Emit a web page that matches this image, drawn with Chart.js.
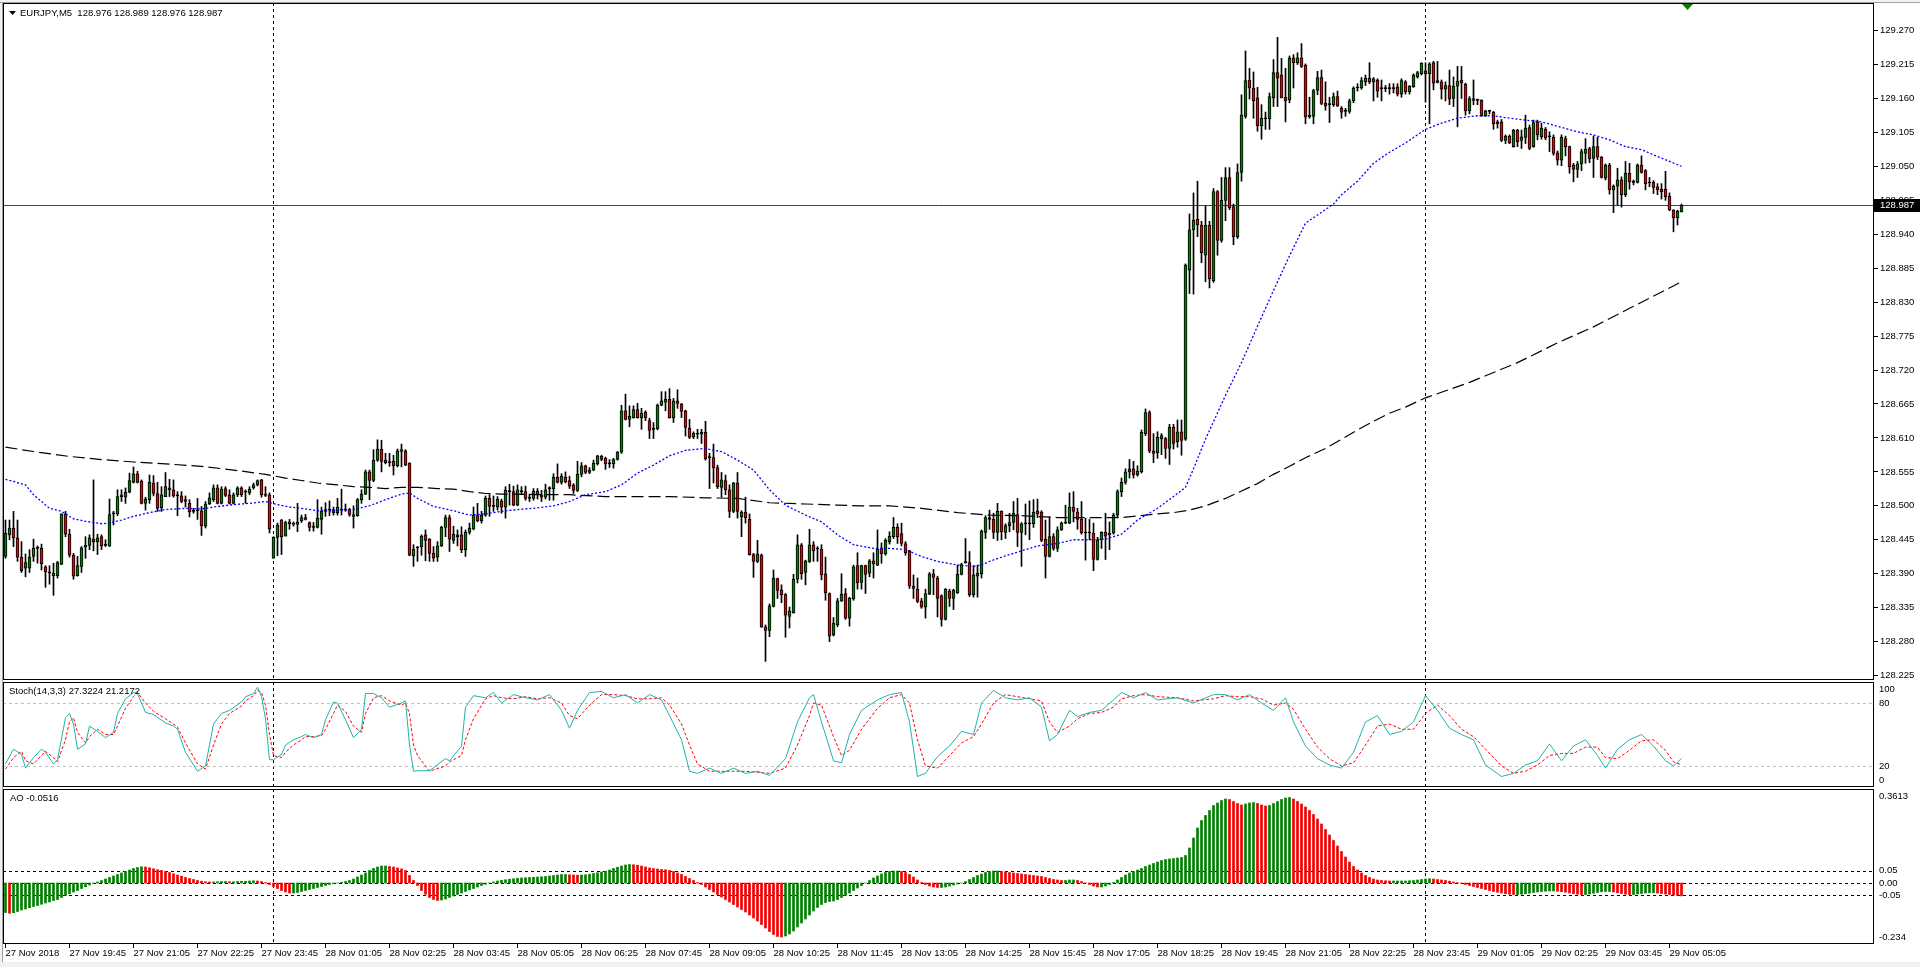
<!DOCTYPE html>
<html>
<head>
<meta charset="utf-8">
<script src="https://cdn.jsdelivr.net/npm/chart.js@4.4.1/dist/chart.umd.min.js"></script>
<style>
html, body { margin: 0; padding: 0; background: #f0f0f0; }
#wrap { position: relative; width: 1920px; height: 967px; background: #fff; overflow: hidden; }
#wrap canvas { position: absolute; left: 0; }
.strip { position: absolute; background: #f0f0f0; }
</style>
</head>
<body>
<div id="wrap">
  <div class="strip" style="left:0;top:0;width:2px;height:967px;border-right:1px solid #a0a0a0"></div>
  <div class="strip" style="left:0;top:0;width:1920px;height:2px;border-bottom:1px solid #a0a0a0"></div>
  <div class="strip" style="left:0;top:962px;width:1920px;height:5px"></div>
  <canvas id="main" width="1920" height="681" style="top:0"></canvas>
  <canvas id="stoch" width="1920" height="107" style="top:681px"></canvas>
  <canvas id="ao" width="1920" height="179" style="top:788px"></canvas>
</div>
<script>
// EURJPY M5, 27 Nov 18:25 .. 29 Nov 05:20, one bar every 5 minutes
var opens = [
128.418,128.453,128.464,128.448,128.417,128.399,128.399,128.418,128.431,128.431,
128.401,128.393,128.387,128.387,128.405,128.487,128.454,128.420,128.387,128.402,
128.433,128.436,128.446,128.442,128.450,128.436,128.435,128.487,128.487,128.515,
128.514,128.522,128.538,128.552,128.540,128.504,128.510,128.537,128.520,128.497,
128.515,128.529,128.526,128.516,128.516,128.510,128.504,128.491,128.492,128.492,
128.467,128.503,128.510,128.529,128.504,128.528,128.518,128.504,128.518,128.529,
128.522,128.521,128.529,128.534,128.542,128.519,128.518,128.415,128.449,128.477,
128.451,128.474,128.471,128.470,128.476,128.481,128.473,128.465,128.465,128.478,
128.491,128.493,128.494,128.489,128.493,128.493,128.494,128.486,128.484,128.510,
128.519,128.555,128.541,128.574,128.592,128.574,128.570,128.572,128.565,128.588,
128.589,128.569,128.419,128.432,128.434,128.453,128.446,128.423,128.417,128.435,
128.465,128.481,128.444,128.453,128.453,128.429,128.457,128.463,128.484,128.476,
128.485,128.512,128.499,128.498,128.508,128.498,128.523,128.523,128.501,128.523,
128.523,128.512,128.512,128.524,128.518,128.514,128.528,128.528,128.546,128.538,
128.546,128.541,128.534,128.525,128.551,128.565,128.554,128.558,128.568,128.580,
128.577,128.568,128.568,128.575,128.587,128.654,128.640,128.643,128.656,128.643,
128.652,128.638,128.624,128.625,128.663,128.668,128.673,128.643,128.670,128.665,
128.654,128.626,128.612,128.616,128.616,128.619,128.578,128.578,128.562,128.530,
128.541,128.526,128.491,128.537,128.482,128.490,128.478,128.421,128.410,128.420,
128.304,128.298,128.337,128.382,128.364,128.356,128.321,128.327,128.381,128.437,
128.392,128.410,128.437,128.430,128.430,128.390,128.358,128.291,128.307,128.346,
128.358,128.318,128.349,128.403,128.376,128.403,128.391,128.411,128.404,128.431,
128.422,128.442,128.450,128.465,128.455,128.439,128.427,128.370,128.365,128.346,
128.336,128.357,128.390,128.383,128.354,128.316,128.362,128.350,128.359,128.389,
128.408,128.408,128.356,128.386,128.390,128.457,128.481,128.478,128.457,128.491,
128.457,128.468,128.473,128.486,128.457,128.471,128.471,128.471,128.492,128.490,
128.446,128.418,128.450,128.431,128.461,128.472,128.472,128.498,128.490,128.478,
128.456,128.456,128.456,128.413,128.445,128.457,128.453,128.456,128.485,128.523,
128.538,128.555,128.560,128.550,128.555,128.617,128.651,128.589,128.586,128.609,
128.609,128.593,128.627,128.604,128.620,128.608,128.882,128.947,128.964,128.955,
128.906,128.955,128.865,129.009,128.930,128.995,129.032,128.985,128.936,129.040,
129.131,129.190,129.177,129.161,129.116,129.127,129.127,129.161,129.202,129.198,
129.162,129.158,129.226,129.218,129.226,129.214,129.130,129.131,129.173,129.194,
129.152,129.150,129.150,129.163,129.144,129.139,129.139,129.156,129.177,129.177,
129.187,129.193,129.187,129.190,129.176,129.176,129.176,129.176,129.179,129.167,
129.187,129.171,129.179,129.195,129.200,129.205,129.200,129.218,129.189,129.187,
129.175,129.181,129.160,129.180,129.190,129.183,129.140,129.160,129.157,129.157,
129.132,129.139,129.138,129.122,129.122,129.092,129.099,129.082,129.109,129.092,
129.097,129.113,129.082,129.122,129.098,129.110,129.098,129.097,129.072,129.060,
129.095,129.082,129.052,129.045,129.054,129.071,129.079,129.063,129.082,129.065,
129.031,129.052,129.012,129.018,129.028,129.004,129.039,129.024,129.024,129.052,
129.043,129.023,129.024,129.017,129.013,129.013,129.002,128.979,128.967,128.976
];
var highs = [
128.477,128.477,128.491,128.477,128.442,128.422,128.429,128.446,128.435,128.438,
128.403,128.403,128.407,128.410,128.487,128.491,128.462,128.423,128.418,128.434,
128.450,128.453,128.542,128.454,128.453,128.445,128.511,128.491,128.526,128.526,
128.529,128.553,128.563,128.556,128.542,128.514,128.550,128.549,128.538,128.531,
128.554,128.543,128.542,128.523,128.523,128.516,128.510,128.496,128.512,128.499,
128.507,128.521,128.534,128.534,128.531,128.531,128.526,128.521,128.531,128.531,
128.526,128.531,128.537,128.542,128.543,128.531,128.521,128.450,128.472,128.478,
128.475,128.478,128.474,128.504,128.485,128.486,128.474,128.473,128.510,128.498,
128.505,128.508,128.498,128.512,128.527,128.503,128.496,128.500,128.512,128.526,
128.558,128.558,128.591,128.607,128.606,128.585,128.585,128.582,128.592,128.600,
128.591,128.570,128.437,128.434,128.453,128.461,128.447,128.434,128.442,128.467,
128.485,128.485,128.467,128.461,128.466,128.461,128.472,128.498,128.504,128.491,
128.516,128.518,128.516,128.515,128.511,128.531,128.535,128.532,128.534,128.531,
128.532,128.519,128.528,128.528,128.525,128.535,128.531,128.552,128.568,128.552,
128.555,128.548,128.536,128.572,128.570,128.566,128.562,128.574,128.582,128.582,
128.579,128.575,128.577,128.588,128.663,128.681,128.662,128.662,128.666,128.658,
128.654,128.642,128.635,128.665,128.685,128.685,128.690,128.674,128.688,128.666,
128.655,128.640,128.620,128.624,128.624,128.637,128.585,128.600,128.566,128.554,
128.550,128.534,128.538,128.554,128.492,128.514,128.487,128.423,128.444,128.422,
128.307,128.341,128.396,128.383,128.372,128.358,128.336,128.389,128.453,128.439,
128.412,128.462,128.442,128.434,128.437,128.417,128.359,128.319,128.350,128.390,
128.366,128.352,128.404,128.424,128.404,128.404,128.413,128.424,128.461,128.440,
128.447,128.458,128.481,128.471,128.472,128.442,128.428,128.388,128.383,128.350,
128.365,128.392,128.397,128.386,128.356,128.366,128.365,128.365,128.404,128.407,
128.447,128.426,128.403,128.404,128.461,128.484,128.493,128.488,128.504,128.492,
128.471,128.488,128.507,128.512,128.473,128.503,128.508,128.510,128.511,128.492,
128.477,128.482,128.455,128.466,128.474,128.501,128.521,128.523,128.496,128.507,
128.480,128.478,128.472,128.449,128.458,128.488,128.474,128.488,128.526,128.545,
128.560,128.575,128.572,128.565,128.623,128.657,128.654,128.617,128.620,128.617,
128.611,128.632,128.632,128.639,128.639,128.892,128.973,129.007,129.026,128.961,
128.986,128.961,129.014,129.011,129.032,129.048,129.048,128.989,129.054,129.166,
129.237,129.209,129.203,129.178,129.150,129.138,129.169,129.223,129.259,129.225,
129.209,129.229,129.231,129.234,129.249,129.216,129.162,129.175,129.204,129.206,
129.187,129.162,129.169,129.172,129.147,129.144,129.159,129.179,129.184,129.194,
129.198,129.218,129.194,129.192,129.190,129.181,129.184,129.184,129.184,129.192,
129.189,129.181,129.200,129.204,129.218,129.218,129.218,129.220,129.220,129.190,
129.187,129.206,129.195,129.212,129.212,129.185,129.163,129.190,129.159,129.158,
129.141,129.141,129.139,129.125,129.126,129.101,129.101,129.110,129.110,129.109,
129.133,129.117,129.125,129.125,129.120,129.113,129.106,129.101,129.075,129.101,
129.099,129.083,129.055,129.058,129.078,129.095,129.081,129.099,129.097,129.066,
129.054,129.055,129.020,129.047,129.033,129.058,129.055,129.028,129.054,129.067,
129.045,129.032,129.027,129.022,129.022,129.042,129.007,128.980,128.979,128.989
];
var lows = [
128.415,128.445,128.434,128.410,128.392,128.385,128.392,128.410,128.407,128.396,
128.368,128.373,128.355,128.383,128.405,128.450,128.417,128.381,128.386,128.392,
128.415,128.429,128.427,128.421,128.429,128.434,128.434,128.469,128.484,128.507,
128.504,128.521,128.537,128.537,128.503,128.493,128.504,128.516,128.491,128.491,
128.515,128.515,128.514,128.484,128.505,128.498,128.482,128.488,128.478,128.452,
128.464,128.502,128.507,128.503,128.503,128.515,128.503,128.503,128.515,128.515,
128.504,128.518,128.527,128.532,128.514,128.515,128.456,128.415,128.419,128.421,
128.451,128.462,128.467,128.458,128.473,128.477,128.459,128.459,128.464,128.454,
128.483,128.484,128.485,128.485,128.485,128.491,128.483,128.464,128.483,128.504,
128.518,128.510,128.539,128.572,128.555,128.568,128.564,128.550,128.563,128.563,
128.565,128.419,128.402,128.410,128.420,128.411,128.410,128.410,128.410,128.434,
128.450,128.426,128.439,128.435,128.424,128.418,128.454,128.461,128.474,128.472,
128.483,128.483,128.491,128.493,128.488,128.480,128.501,128.500,128.500,128.518,
128.509,128.507,128.509,128.511,128.507,128.511,128.509,128.509,128.537,128.535,
128.537,128.528,128.520,128.523,128.547,128.552,128.552,128.557,128.566,128.573,
128.559,128.562,128.561,128.574,128.585,128.639,128.628,128.642,128.642,128.624,
128.638,128.609,128.609,128.623,128.662,128.654,128.642,128.635,128.658,128.643,
128.613,128.609,128.609,128.609,128.601,128.574,128.528,128.537,128.528,128.514,
128.518,128.481,128.489,128.480,128.450,128.472,128.420,128.384,128.408,128.303,
128.248,128.288,128.336,128.350,128.343,128.287,128.302,128.326,128.375,128.381,
128.372,128.408,128.410,128.410,128.380,128.347,128.280,128.289,128.304,128.345,
128.316,128.305,128.347,128.365,128.365,128.358,128.385,128.383,128.403,128.407,
128.420,128.438,128.447,128.439,128.435,128.420,128.366,128.350,128.343,128.334,
128.318,128.356,128.356,128.320,128.305,128.315,128.337,128.332,128.358,128.388,
128.407,128.353,128.352,128.352,128.383,128.447,128.462,128.447,128.444,128.445,
128.447,128.458,128.461,128.434,128.402,128.453,128.445,128.465,128.481,128.442,
128.383,128.417,128.428,128.426,128.460,128.471,128.471,128.474,128.462,128.454,
128.412,128.445,128.395,128.412,128.431,128.413,128.429,128.454,128.481,128.515,
128.535,128.545,128.545,128.548,128.553,128.614,128.586,128.570,128.577,128.583,
128.577,128.567,128.592,128.595,128.582,128.606,128.844,128.843,128.936,128.894,
128.863,128.853,128.862,128.906,128.927,128.962,128.980,128.923,128.933,129.026,
129.128,129.159,129.128,129.107,129.094,129.110,129.110,129.147,129.147,129.161,
129.122,129.153,129.177,129.215,129.210,129.119,129.128,129.119,129.166,129.150,
129.141,129.121,129.147,129.147,129.128,129.131,129.136,129.153,129.172,129.175,
129.181,129.184,129.156,129.162,129.156,129.171,129.167,129.169,129.164,129.162,
129.167,129.167,129.178,129.193,129.198,129.154,129.119,129.174,129.185,129.159,
129.156,129.150,129.147,129.114,129.160,129.133,129.135,129.150,129.150,129.131,
129.131,129.135,129.110,129.112,129.090,129.087,129.087,129.081,129.082,129.079,
129.087,129.077,129.081,129.093,129.094,129.093,129.074,129.068,129.052,129.051,
129.067,129.039,129.025,129.032,129.043,129.055,129.056,129.032,129.061,129.031,
129.028,129.005,128.975,128.987,128.984,129.001,129.013,129.020,129.023,129.039,
129.012,129.017,129.006,129.004,128.997,128.995,128.978,128.944,128.955,128.976
];
var closes = [
128.456,128.464,128.448,128.417,128.395,128.408,128.417,128.431,128.431,128.406,
128.393,128.391,128.391,128.408,128.487,128.454,128.420,128.386,128.403,128.432,
128.436,128.448,128.442,128.448,128.435,128.436,128.486,128.487,128.515,128.518,
128.522,128.541,128.552,128.538,128.504,128.511,128.538,128.520,128.496,128.518,
128.531,128.526,128.516,128.516,128.507,128.507,128.490,128.491,128.492,128.468,
128.503,128.513,128.529,128.504,128.527,128.517,128.504,128.518,128.529,128.518,
128.522,128.527,128.534,128.541,128.518,128.517,128.462,128.449,128.469,128.450,
128.473,128.471,128.470,128.474,128.481,128.478,128.465,128.465,128.480,128.491,
128.494,128.493,128.489,128.498,128.493,128.493,128.486,128.483,128.510,128.519,
128.555,128.541,128.574,128.592,128.572,128.570,128.570,128.565,128.589,128.591,
128.566,128.420,128.430,128.432,128.451,128.444,128.423,128.415,128.435,128.465,
128.481,128.446,128.454,128.450,128.429,128.457,128.464,128.485,128.476,128.485,
128.512,128.499,128.499,128.511,128.498,128.525,128.523,128.501,128.526,128.523,
128.512,128.512,128.524,128.518,128.514,128.526,128.528,128.546,128.538,128.548,
128.539,128.532,128.525,128.551,128.565,128.554,128.558,128.569,128.581,128.575,
128.568,128.568,128.575,128.587,128.654,128.640,128.645,128.656,128.643,128.650,
128.643,128.622,128.624,128.663,128.670,128.673,128.643,128.670,128.666,128.653,
128.627,128.611,128.618,128.616,128.619,128.576,128.578,128.562,128.531,128.542,
128.526,128.491,128.537,128.491,128.490,128.481,128.421,128.410,128.422,128.304,
128.298,128.338,128.383,128.363,128.356,128.323,128.330,128.381,128.437,128.390,
128.411,128.437,128.427,128.430,128.388,128.359,128.289,128.310,128.346,128.357,
128.318,128.350,128.401,128.375,128.403,128.389,128.411,128.406,128.430,128.422,
128.444,128.451,128.465,128.450,128.439,128.424,128.370,128.366,128.345,128.336,
128.358,128.390,128.384,128.350,128.316,128.365,128.350,128.363,128.389,128.405,
128.408,128.356,128.388,128.391,128.459,128.481,128.478,128.457,128.491,128.458,
128.468,128.473,128.488,128.457,128.471,128.471,128.471,128.490,128.487,128.444,
128.418,128.450,128.431,128.461,128.472,128.472,128.498,128.491,128.478,128.456,
128.456,128.456,128.413,128.445,128.457,128.451,128.456,128.485,128.523,128.538,
128.555,128.560,128.550,128.556,128.619,128.651,128.589,128.585,128.611,128.614,
128.593,128.627,128.601,128.620,128.606,128.890,128.947,128.963,128.955,128.910,
128.955,128.868,129.009,128.930,128.995,129.032,128.983,128.936,129.040,129.133,
129.189,129.177,129.156,129.116,129.128,129.127,129.163,129.202,129.193,129.161,
129.156,129.226,129.218,129.226,129.212,129.130,129.133,129.173,129.194,129.152,
129.148,129.150,129.163,129.148,129.138,129.139,129.156,129.177,129.177,129.189,
129.193,129.187,129.192,129.172,129.176,129.176,129.176,129.176,129.167,129.189,
129.171,129.180,129.198,129.202,129.217,129.200,129.216,129.185,129.186,129.175,
129.181,129.159,129.180,129.188,129.185,129.140,129.160,129.157,129.157,129.132,
129.140,129.139,129.119,129.119,129.092,129.099,129.088,129.109,129.090,129.098,
129.112,129.079,129.121,129.101,129.112,129.096,129.098,129.071,129.060,129.097,
129.082,129.049,129.045,129.054,129.074,129.078,129.062,129.082,129.065,129.032,
129.052,129.012,129.018,129.028,129.004,129.039,129.025,129.024,129.052,129.040,
129.022,129.023,129.016,129.012,129.009,129.001,128.980,128.967,128.977,128.987
];

// moving averages, read at sparse bars
var maBlueIdx = [0,5,7,11,14,17,20,24,26,29,32,36,40,45,49,52,57,61,65,68,71,74,78,82,87,91,95,99,101,103,107,112,116,120,124,128,132,137,141,145,150,154,158,162,166,170,175,177,179,183,187,191,195,200,204,208,212,217,221,225,229,233,238,242,244,246,250,254,258,263,267,271,275,279,283,288,292,295,297,300,305,309,313,317,321,325,330,332,334,338,342,346,350,355,359,363,368,372,376,380,384,388,393,397,401,405,409,413,419];
var maBlue = [128.543,128.534,128.518,128.496,128.491,128.479,128.475,128.471,128.472,128.477,128.483,128.489,128.494,128.496,128.495,128.498,128.502,128.504,128.507,128.502,128.498,128.496,128.492,128.492,128.494,128.500,128.510,128.519,128.521,128.512,128.499,128.492,128.485,128.487,128.491,128.494,128.496,128.500,128.507,128.518,128.523,128.534,128.553,128.566,128.581,128.590,128.593,128.590,128.588,128.574,128.558,128.526,128.501,128.485,128.474,128.453,128.437,128.431,128.431,128.429,128.418,128.410,128.404,128.402,128.404,128.410,128.419,128.427,128.435,128.439,128.445,128.445,128.446,128.454,128.477,128.496,128.515,128.530,128.560,128.608,128.679,128.732,128.791,128.849,128.905,128.958,128.980,128.989,129.004,129.026,129.055,129.073,129.088,129.110,129.120,129.128,129.132,129.132,129.128,129.125,129.122,129.115,129.106,129.101,129.093,129.082,129.077,129.066,129.050];
var maBlackIdx = [0,7,16,24,32,40,49,57,65,70,74,78,83,87,91,95,99,103,108,112,116,120,124,128,133,137,141,150,158,166,175,183,191,200,208,214,221,229,238,246,254,263,271,279,285,288,292,296,300,305,309,313,317,321,325,330,334,338,342,346,350,355,366,378,388,397,406,419];
var maBlack = [128.595,128.588,128.580,128.575,128.571,128.568,128.564,128.558,128.551,128.545,128.541,128.537,128.534,128.531,128.530,128.528,128.530,128.530,128.528,128.527,128.523,128.520,128.519,128.519,128.518,128.518,128.518,128.515,128.515,128.515,128.513,128.512,128.505,128.503,128.501,128.500,128.500,128.496,128.489,128.485,128.484,128.481,128.481,128.481,128.485,128.487,128.489,128.493,128.500,128.512,128.524,128.536,128.551,128.564,128.578,128.593,128.608,128.623,128.637,128.650,128.660,128.675,128.700,128.732,128.764,128.790,128.820,128.863];

// stochastic (14,3,3): %K main line and %D signal, read at sparse bars
var stochIdx = [0,2,4,5,7,9,10,12,13,15,16,17,18,20,21,23,25,27,28,30,32,33,35,37,40,42,43,45,48,50,52,54,56,59,60,62,63,64,65,66,67,69,70,72,74,75,77,79,80,82,83,85,87,89,90,92,94,96,99,
  100,101,102,103,106,110,111,114,115,117,120,122,124,127,130,133,136,139,141,143,146,149,152,155,158,161,164,166,169,171,
  173,176,179,182,185,188,191,195,198,201,202,204,207,209,211,214,218,221,224,226,228,230,233,236,239,242,244,247,250,253,
  256,259,261,263,266,268,271,274,277,279,282,285,288,293,297,302,305,308,311,314,317,320,322,325,328,331,334,337,340,343,
  346,349,352,355,358,361,364,367,370,374,377,380,383,386,389,392,395,398,400,403,406,409,412,415,417,419];
var stochK = [22,36,31,18,28,36,33,22,26,66,70,60,36,41,58,53,47,52,70,84,90,89,71,69,61,58,55,33,15,20,60,70,73,81,86,89,95,86,65,26,26,31,40,45,48,50,47,50,64,81,80,64,47,55,89,89,85,76,80,
  82,40,15,15.5,15.5,27,25,39,76,87,85,90,80,88,85,83,88,73,56,73,90,91,85,88,80,88,83,68,45,15,
  13,18,13,18,13,15,11,27,62,85,88,62,25,23,50,73,83,88,90,62,10,13,29,39,53,50,80,92,85,83,
  85,76,44,50,73,67,71,73,83,90,85,90,83,85,80,88,88,83,88,80,73,85,62,39,27,21,18,33,62,68,
  50,53,62,87,73,56,50,45,21,10,13,21,25,41,25,39,45,30,18,36,45,50,39,25,20,27.32];
var stochD = [17,28,34,25,22,30,34,28,24,45,62,66,52,42,48,55,50,50,58,75,86,90,80,72,65,60,57,42,22,17,40,60,70,77,82,87,92,90,78,50,30,28,33,40,45,48,48,49,55,70,78,72,58,52,70,85,87,82,78,
  80,70,40,30,15,20,24,30,45,65,84,87,85,84,86,84,85,80,68,65,78,88,88,87,84,84,85,78,60,40,
  22,15,15,15,15,14,13,18,40,68,80,78,48,30,35,55,75,85,88,80,45,20,18,30,42,48,60,80,88,86,
  84,82,62,52,58,65,70,71,76,84,87,88,86,85,82,84,87,86,86,84,78,80,74,55,38,27,20,23,40,58,
  60,55,55,70,78,68,55,48,36,20,13,15,21,30,32,32,38,38,28,27,35,44,45,35,24,21.22];

// awesome oscillator, one value per bar
var aoValues = [
-0.118,-0.121,-0.119,-0.114,-0.108,-0.104,-0.099,-0.094,-0.090,-0.085,
-0.080,-0.076,-0.070,-0.066,-0.058,-0.050,-0.043,-0.036,-0.030,-0.022,
-0.015,-0.008,-0.002,0.004,0.010,0.016,0.022,0.028,0.034,0.040,
0.046,0.052,0.058,0.062,0.065,0.064,0.061,0.057,0.053,0.050,
0.046,0.042,0.037,0.032,0.027,0.022,0.018,0.014,0.010,0.007,
0.005,0.004,0.004,0.005,0.006,0.006,0.005,0.005,0.006,0.007,
0.007,0.008,0.009,0.008,0.006,0.002,-0.006,-0.014,-0.022,-0.030,
-0.036,-0.040,-0.040,-0.038,-0.034,-0.030,-0.026,-0.022,-0.018,-0.014,
-0.010,-0.006,-0.003,0.000,0.003,0.006,0.010,0.016,0.024,0.032,
0.040,0.050,0.058,0.064,0.068,0.068,0.066,0.064,0.060,0.056,
0.050,0.030,0.010,-0.010,-0.030,-0.045,-0.058,-0.066,-0.070,-0.068,
-0.064,-0.058,-0.052,-0.046,-0.040,-0.034,-0.028,-0.022,-0.016,-0.010,
-0.005,0.000,0.004,0.008,0.011,0.013,0.015,0.017,0.019,0.020,
0.021,0.022,0.023,0.024,0.025,0.026,0.028,0.030,0.032,0.034,
0.034,0.033,0.032,0.031,0.032,0.033,0.035,0.038,0.041,0.044,
0.047,0.052,0.058,0.063,0.068,0.072,0.074,0.073,0.071,0.068,
0.064,0.060,0.058,0.056,0.054,0.053,0.050,0.046,0.040,0.034,
0.026,0.018,0.010,0.002,-0.006,-0.016,-0.026,-0.036,-0.046,-0.056,
-0.066,-0.076,-0.086,-0.096,-0.106,-0.116,-0.128,-0.140,-0.152,-0.166,
-0.180,-0.194,-0.206,-0.214,-0.216,-0.212,-0.204,-0.192,-0.176,-0.160,
-0.144,-0.128,-0.112,-0.098,-0.086,-0.078,-0.074,-0.072,-0.066,-0.058,
-0.050,-0.040,-0.030,-0.020,-0.010,0.000,0.010,0.020,0.028,0.036,
0.042,0.046,0.048,0.048,0.046,0.042,0.034,0.024,0.012,0.002,
-0.006,-0.012,-0.016,-0.018,-0.018,-0.016,-0.012,-0.008,-0.004,0.000,
0.006,0.014,0.022,0.030,0.036,0.042,0.046,0.048,0.048,0.046,
0.044,0.042,0.040,0.038,0.036,0.034,0.032,0.030,0.028,0.026,
0.022,0.018,0.014,0.012,0.010,0.010,0.012,0.012,0.010,0.006,
0.000,-0.006,-0.012,-0.016,-0.016,-0.012,-0.006,0.002,0.012,0.022,
0.032,0.040,0.046,0.052,0.058,0.066,0.072,0.078,0.084,0.090,
0.094,0.096,0.098,0.100,0.102,0.110,0.140,0.180,0.220,0.250,
0.270,0.290,0.310,0.320,0.330,0.336,0.334,0.326,0.318,0.312,
0.316,0.320,0.322,0.318,0.312,0.308,0.310,0.318,0.326,0.334,
0.340,0.342,0.336,0.326,0.316,0.304,0.290,0.274,0.256,0.236,
0.214,0.192,0.170,0.148,0.126,0.104,0.084,0.066,0.052,0.040,
0.030,0.022,0.016,0.012,0.010,0.009,0.008,0.008,0.008,0.008,
0.008,0.009,0.010,0.012,0.014,0.016,0.017,0.016,0.014,0.012,
0.010,0.007,0.004,0.001,-0.002,-0.006,-0.010,-0.014,-0.018,-0.022,
-0.026,-0.030,-0.034,-0.037,-0.040,-0.043,-0.045,-0.046,-0.046,-0.045,
-0.043,-0.041,-0.038,-0.036,-0.034,-0.033,-0.032,-0.032,-0.033,-0.035,
-0.037,-0.040,-0.043,-0.045,-0.046,-0.046,-0.044,-0.041,-0.038,-0.035,
-0.034,-0.034,-0.036,-0.039,-0.042,-0.045,-0.046,-0.046,-0.044,-0.042,
-0.040,-0.039,-0.039,-0.040,-0.042,-0.044,-0.046,-0.048,-0.050,-0.0516
];

var priceTicks = [128.225,128.280,128.335,128.390,128.445,128.500,128.555,128.610,128.665,128.720,
  128.775,128.830,128.885,128.940,128.995,129.050,129.105,129.160,129.215,129.270];
var xTickIdx = [0,16,32,48,64,80,96,112,128,144,160,176,192,208,224,240,256,272,288,304,320,336,352,368,384,400,416];
var xLabels = ['27 Nov 2018','27 Nov 19:45','27 Nov 21:05','27 Nov 22:25','27 Nov 23:45','28 Nov 01:05',
  '28 Nov 02:25','28 Nov 03:45','28 Nov 05:05','28 Nov 06:25','28 Nov 07:45','28 Nov 09:05','28 Nov 10:25',
  '28 Nov 11:45','28 Nov 13:05','28 Nov 14:25','28 Nov 15:45','28 Nov 17:05','28 Nov 18:25','28 Nov 19:45',
  '28 Nov 21:05','28 Nov 22:25','28 Nov 23:45','29 Nov 01:05','29 Nov 02:25','29 Nov 03:45','29 Nov 05:05'];
var daySeparators = [67, 355];
var lastPrice = 128.987;
var stochLevels = [20, 80];
var stochLabels = [100, 80, 20, 0];
var aoLevels = [0.05, 0, -0.05];
var aoMax = 0.3613, aoMin = -0.234;

var GREEN = '#008000', RED = '#f00000';
var X_MIN = -0.625, X_MAX = 467.125, AXIS_W = 46;
var FONT = "'Liberation Sans', Arial, sans-serif";

Chart.defaults.font.family = FONT;
Chart.defaults.font.size = 9.5;
Chart.defaults.color = '#000';

function fixY(s) { s.width = AXIS_W; s.paddingTop = 0; s.paddingBottom = 0; }
function hiddenX() { return { type: 'linear', min: X_MIN, max: X_MAX, display: false, offset: false }; }
function quietY(min, max) {
    return { position: 'right', min: min, max: max, afterFit: fixY,
        ticks: { display: false }, grid: { display: false }, border: { display: false } };
}
function pts(idx, vals) { return idx.map(function (x, k) { return { x: x, y: vals[k] }; }); }

function frame(ctx, a) {
    ctx.save();
    ctx.strokeStyle = '#000';
    ctx.lineWidth = 1;
    ctx.strokeRect(a.left + 0.5, a.top + 0.5, a.right - a.left - 1, a.bottom - a.top - 1);
    ctx.restore();
}
function separators(chart) {
    var ctx = chart.ctx, a = chart.chartArea, xs = chart.scales.x;
    ctx.save();
    ctx.strokeStyle = '#000';
    ctx.setLineDash([3, 3]);
    daySeparators.forEach(function (i) {
        var x = Math.floor(xs.getPixelForValue(i)) + 0.5;
        ctx.beginPath(); ctx.moveTo(x, a.top); ctx.lineTo(x, a.bottom); ctx.stroke();
    });
    ctx.restore();
}
function sideLabel(chart, v, txt) {
    var ctx = chart.ctx, a = chart.chartArea;
    var y = chart.scales.y.getPixelForValue(v);
    y = Math.min(Math.max(y, a.top + 7), a.bottom - 7);
    ctx.fillText(txt, a.right + 5, y);
}

// main price panel
var mainDecor = {
    id: 'mainDecor',
    beforeDatasetsDraw: function (chart) {
        var ctx = chart.ctx, a = chart.chartArea;
        separators(chart);
        var y = Math.round(chart.scales.y.getPixelForValue(lastPrice)) + 0.5;
        ctx.save();
        ctx.strokeStyle = '#0b6e0b';
        ctx.beginPath(); ctx.moveTo(a.left, y); ctx.lineTo(a.right, y); ctx.stroke();
        ctx.restore();
    },
    afterDraw: function (chart) {
        var ctx = chart.ctx, a = chart.chartArea;
        frame(ctx, a);
        ctx.save();
        // price tag of the last quote
        var y = Math.round(chart.scales.y.getPixelForValue(lastPrice));
        ctx.fillStyle = '#000';
        ctx.fillRect(a.right, y - 6, 1920 - a.right, 13);
        ctx.fillStyle = '#fff';
        ctx.font = '9.5px ' + FONT;
        ctx.textBaseline = 'middle';
        ctx.fillText(lastPrice.toFixed(3), a.right + 6, y + 0.5);
        // header
        ctx.fillStyle = '#000';
        ctx.beginPath(); ctx.moveTo(9, 11); ctx.lineTo(16, 11); ctx.lineTo(12.5, 15); ctx.closePath(); ctx.fill();
        ctx.fillText('EURJPY,M5  128.976 128.989 128.976 128.987', 20, 13.5);
        // chart shift marker
        ctx.fillStyle = '#0b7a0b';
        ctx.beginPath(); ctx.moveTo(1682, 4); ctx.lineTo(1693, 4); ctx.lineTo(1687.5, 10); ctx.closePath(); ctx.fill();
        ctx.restore();
    }
};

new Chart(document.getElementById('main'), {
    type: 'bar',
    data: {
        datasets: [
            { type: 'line', data: pts(maBlueIdx, maBlue), borderColor: '#0000ff', borderWidth: 1.3,
              borderDash: [2, 2], pointRadius: 0, order: 0 },
            { type: 'line', data: pts(maBlackIdx, maBlack), borderColor: '#000', borderWidth: 1.2,
              borderDash: [12, 5], pointRadius: 0, order: 0 },
            { data: opens.map(function (o, i) { return { x: i, y: [o, closes[i]] }; }),
              backgroundColor: opens.map(function (o, i) { return closes[i] > o ? GREEN : (closes[i] < o ? RED : '#000'); }),
              borderColor: '#000', borderWidth: 1, borderSkipped: false,
              barThickness: 3, minBarLength: 1, grouped: false, order: 1 },
            { data: lows.map(function (l, i) { return { x: i, y: [l, highs[i]] }; }),
              backgroundColor: '#000', barThickness: 1, grouped: false, order: 2 }
        ]
    },
    options: {
        responsive: false, animation: false, devicePixelRatio: 1,
        layout: { padding: { left: 3, top: 3, right: 0, bottom: 1 } },
        plugins: { legend: { display: false }, tooltip: { enabled: false } },
        scales: {
            x: hiddenX(),
            y: {
                position: 'right', min: 128.2178, max: 129.3147,
                afterBuildTicks: function (s) { s.ticks = priceTicks.map(function (v) { return { value: v }; }); },
                afterFit: fixY,
                grid: { drawOnChartArea: false, drawTicks: true, tickLength: 4, color: '#000' },
                border: { display: false },
                ticks: { padding: 2, autoSkip: false, callback: function (v) { return v.toFixed(3); } }
            }
        }
    },
    plugins: [mainDecor]
});

// stochastic panel
var stochDecor = {
    id: 'stochDecor',
    beforeDatasetsDraw: function (chart) {
        var ctx = chart.ctx, a = chart.chartArea;
        separators(chart);
        ctx.save();
        ctx.strokeStyle = '#c0c0c0';
        ctx.setLineDash([3, 3]);
        stochLevels.forEach(function (v) {
            var y = Math.round(chart.scales.y.getPixelForValue(v)) + 0.5;
            ctx.beginPath(); ctx.moveTo(a.left, y); ctx.lineTo(a.right, y); ctx.stroke();
        });
        ctx.restore();
    },
    afterDraw: function (chart) {
        var ctx = chart.ctx, a = chart.chartArea;
        frame(ctx, a);
        ctx.save();
        ctx.fillStyle = '#000';
        ctx.font = '9.5px ' + FONT;
        ctx.textBaseline = 'middle';
        ctx.fillText('Stoch(14,3,3) 27.3224 21.2172', 9, a.top + 9);
        stochLabels.forEach(function (v) { sideLabel(chart, v, String(v)); });
        ctx.restore();
    }
};

new Chart(document.getElementById('stoch'), {
    type: 'line',
    data: {
        datasets: [
            { data: pts(stochIdx, stochK), borderColor: '#20b2aa', borderWidth: 1, pointRadius: 0 },
            { data: pts(stochIdx, stochD), borderColor: '#ff0000', borderWidth: 1, borderDash: [3, 2], pointRadius: 0 }
        ]
    },
    options: {
        responsive: false, animation: false, devicePixelRatio: 1,
        layout: { padding: { left: 3, top: 1, right: 0, bottom: 1 } },
        plugins: { legend: { display: false }, tooltip: { enabled: false } },
        scales: { x: hiddenX(), y: quietY(0, 100) }
    },
    plugins: [stochDecor]
});

// awesome oscillator panel with the time axis
var aoDecor = {
    id: 'aoDecor',
    beforeDatasetsDraw: function (chart) {
        var ctx = chart.ctx, a = chart.chartArea;
        separators(chart);
        ctx.save();
        ctx.strokeStyle = '#000';
        ctx.setLineDash([3, 3]);
        aoLevels.forEach(function (v) {
            var y = Math.round(chart.scales.y.getPixelForValue(v)) + 0.5;
            ctx.beginPath(); ctx.moveTo(a.left, y); ctx.lineTo(a.right, y); ctx.stroke();
        });
        ctx.restore();
    },
    afterDraw: function (chart) {
        var ctx = chart.ctx, a = chart.chartArea;
        frame(ctx, a);
        ctx.save();
        ctx.fillStyle = '#000';
        ctx.font = '9.5px ' + FONT;
        ctx.textBaseline = 'middle';
        ctx.fillText('AO -0.0516', 10, a.top + 9);
        sideLabel(chart, aoMax, aoMax.toFixed(4));
        aoLevels.forEach(function (v) { sideLabel(chart, v, v.toFixed(2)); });
        sideLabel(chart, aoMin, aoMin.toFixed(3));
        ctx.restore();
    }
};

new Chart(document.getElementById('ao'), {
    type: 'bar',
    data: {
        datasets: [{
            data: aoValues.map(function (v, i) { return { x: i, y: v }; }),
            backgroundColor: aoValues.map(function (v, i) { return (i === 0 || v >= aoValues[i - 1]) ? GREEN : RED; }),
            barThickness: 2, grouped: false
        }]
    },
    options: {
        responsive: false, animation: false, devicePixelRatio: 1,
        layout: { padding: { left: 3, top: 1, right: 0, bottom: 0 } },
        plugins: { legend: { display: false }, tooltip: { enabled: false } },
        scales: {
            x: {
                type: 'linear', min: X_MIN, max: X_MAX, offset: false, position: 'bottom',
                afterBuildTicks: function (s) { s.ticks = xTickIdx.map(function (v) { return { value: v }; }); },
                afterFit: function (s) { s.height = 23; s.paddingLeft = 0; s.paddingRight = 0; },
                grid: { drawOnChartArea: false, drawTicks: true, tickLength: 4, color: '#000', offset: false },
                border: { display: false },
                ticks: { align: 'start', maxRotation: 0, minRotation: 0, autoSkip: false, padding: 0,
                         callback: function (v, k) { return xLabels[k]; } }
            },
            y: quietY(-0.244, 0.376)
        }
    },
    plugins: [aoDecor]
});
</script>
</body>
</html>
